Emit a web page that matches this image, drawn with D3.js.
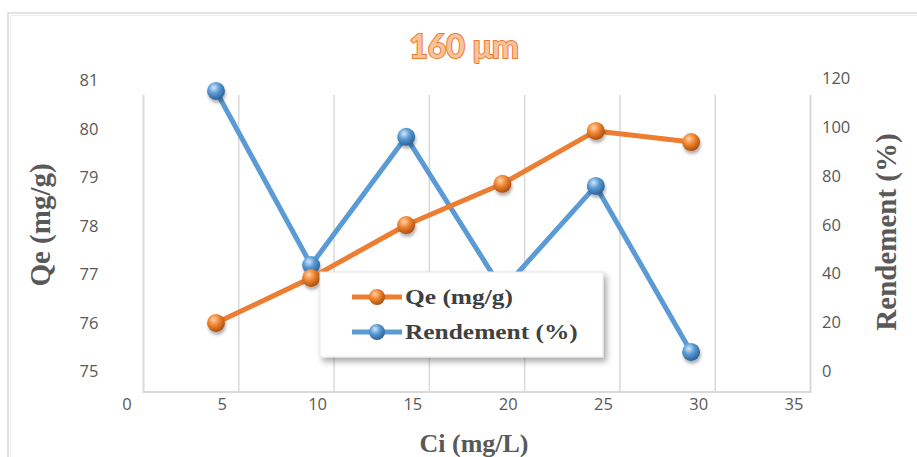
<!DOCTYPE html>
<html><head><meta charset="utf-8">
<script src="https://cdn.jsdelivr.net/npm/d3@7"></script>
<style>body{margin:0;background:#fff}svg{display:block}</style>
</head><body>
<svg id="c" width="917" height="457"></svg>
<script>
// ---- data ----
const ci        = [4.67, 9.66, 14.65, 19.7, 24.6, 29.6];
const qe        = [75.99, 76.92, 78.01, 78.86, 79.95, 79.72];
const rendement = [114.7, 43.4, 95.9, 33.2, 75.8, 7.8];
const xTicks    = [0, 5, 10, 15, 20, 25, 30, 35];
const qeTicks   = [75, 76, 77, 78, 79, 80, 81];
const rTicks    = [0, 20, 40, 60, 80, 100, 120];
const seriesNames = ["Qe (mg/g)", "Rendement (%)"];

const svg = d3.select("#c");
const W = 917, H = 457;
const orange = "#ED7D31", blue = "#5B9BD5";

// scales (label positions)
const x  = d3.scaleLinear().domain([0, 35]).range([127, 794]);
const yL = d3.scaleLinear().domain([75, 81]).range([371, 80]);
const yR = d3.scaleLinear().domain([0, 120]).range([371, 78]);
const gridShift = 16.5, frameTop = 95, frameBottom = 392;

// defs
const defs = svg.append("defs");
function sphere(id, c0, c1, c2) {
  const g = defs.append("radialGradient").attr("id", id)
    .attr("cx", "38%").attr("cy", "32%").attr("r", "70%");
  g.append("stop").attr("offset", "0%").attr("stop-color", c0);
  g.append("stop").attr("offset", "45%").attr("stop-color", c1);
  g.append("stop").attr("offset", "100%").attr("stop-color", c2);
}
sphere("gO", "#fcd2ad", "#f0862f", "#a84c12");
sphere("gB", "#d2e6fa", "#5b9bd5", "#2a5f96");
const sh = defs.append("filter").attr("id", "sh").attr("x", "-20%").attr("y", "-20%").attr("width", "150%").attr("height", "160%");
sh.append("feDropShadow").attr("dx", 3).attr("dy", 4).attr("stdDeviation", 3).attr("flood-color", "#000").attr("flood-opacity", 0.35);
const ms = defs.append("filter").attr("id", "ms").attr("x", "-50%").attr("y", "-50%").attr("width", "200%").attr("height", "220%");
ms.append("feDropShadow").attr("dx", 1).attr("dy", 3).attr("stdDeviation", 1.5).attr("flood-color", "#000").attr("flood-opacity", 0.3);

// outer chart border
svg.append("rect").attr("x", 8).attr("y", 13).attr("width", W + 20).attr("height", H + 20)
  .attr("fill", "none").attr("stroke", "#d9d9d9").attr("stroke-width", 1.5);
svg.append("rect").attr("x", 10.5).attr("y", 15.5).attr("width", W + 20).attr("height", H + 20)
  .attr("fill", "none").attr("stroke", "#ececec").attr("stroke-width", 1);

// gridlines (vertical only)
svg.append("g").selectAll("line").data(xTicks.slice(1, -1)).join("line")
  .attr("x1", d => x(d) + gridShift).attr("x2", d => x(d) + gridShift)
  .attr("y1", frameTop).attr("y2", frameBottom)
  .attr("stroke", "#d9d9d9").attr("stroke-width", 1.5);
// axis frame lines
const fl = x(0) + gridShift, fr = x(35) + gridShift;
svg.append("path").attr("d", `M${fl},${frameTop}V${frameBottom}H${fr}V${frameTop}`)
  .attr("fill", "none").attr("stroke", "#d9d9d9").attr("stroke-width", 2);

// tick labels
const tickFont = "Open Sans, Lato, sans-serif";
svg.append("g").selectAll("text").data(xTicks).join("text")
  .attr("x", d => x(d)).attr("y", 410).attr("text-anchor", "middle")
  .attr("font-family", tickFont).attr("font-size", 16.5).attr("fill", "#595959").text(d => d);
svg.append("g").selectAll("text").data(qeTicks).join("text")
  .attr("x", 89).attr("y", d => yL(d) + 6).attr("text-anchor", "middle")
  .attr("font-family", tickFont).attr("font-size", 16.5).attr("fill", "#595959").text(d => d);
svg.append("g").selectAll("text").data(rTicks).join("text")
  .attr("x", 822).attr("y", d => yR(d) + 6).attr("text-anchor", "start")
  .attr("font-family", tickFont).attr("font-size", 16.5).attr("fill", "#595959").text(d => d);

// axis titles
const serif = "Liberation Serif, DejaVu Serif, serif";
svg.append("text").attr("transform", "translate(50,225) rotate(-90)").attr("text-anchor", "middle")
  .attr("font-family", serif).attr("font-weight", "bold").attr("font-size", 29).attr("fill", "#595959").text("Qe (mg/g)");
svg.append("text").attr("transform", "translate(896,232) rotate(-90)").attr("text-anchor", "middle")
  .attr("font-family", serif).attr("font-weight", "bold").attr("font-size", 29).attr("fill", "#595959").text("Rendement (%)");
svg.append("text").attr("x", 474).attr("y", 452).attr("text-anchor", "middle")
  .attr("font-family", serif).attr("font-weight", "bold").attr("font-size", 26).attr("fill", "#595959").text("Ci (mg/L)");

// title
svg.append("text").attr("x", 464).attr("y", 58).attr("text-anchor", "middle")
  .attr("font-family", "Lato, Open Sans, sans-serif").attr("font-weight", "bold").attr("font-size", 32)
  .attr("fill", "#f8c29b").attr("stroke", orange).attr("stroke-width", 2).attr("paint-order", "stroke")
  .text("160 μm");

// series
const pts = (ys, yScale) => ci.map((c, i) => [x(c), yScale(ys[i])]);
function series(p, color, grad) {
  const g = svg.append("g");
  g.append("path").attr("d", d3.line()(p)).attr("fill", "none")
    .attr("stroke", color).attr("stroke-width", 5).attr("stroke-linejoin", "round");
  g.selectAll("circle").data(p).join("circle")
    .attr("cx", d => d[0]).attr("cy", d => d[1]).attr("r", 9)
    .attr("fill", `url(#${grad})`).attr("filter", "url(#ms)");
}
series(pts(rendement, yR), blue, "gB");
series(pts(qe, yL), orange, "gO");

// legend
const lg = svg.append("g");
lg.append("rect").attr("x", 320).attr("y", 272).attr("width", 283).attr("height", 85)
  .attr("fill", "#fff").attr("stroke", "#e6e6e6").attr("filter", "url(#sh)");
const items = [[seriesNames[0], orange, "gO"], [seriesNames[1], blue, "gB"]];
items.forEach((it, i) => {
  const yy = 297 + i * 35;
  lg.append("line").attr("x1", 352).attr("x2", 402).attr("y1", yy).attr("y2", yy)
    .attr("stroke", it[1]).attr("stroke-width", 5);
  lg.append("circle").attr("cx", 377).attr("cy", yy).attr("r", 8).attr("fill", `url(#${it[2]})`);
  lg.append("text").attr("transform", `translate(405,${yy + 7}) scale(1.27,1)`)
    .attr("font-family", serif).attr("font-weight", "bold")
    .attr("font-size", 20).attr("fill", "#404040").text(it[0]);
});
</script>
</body></html>
